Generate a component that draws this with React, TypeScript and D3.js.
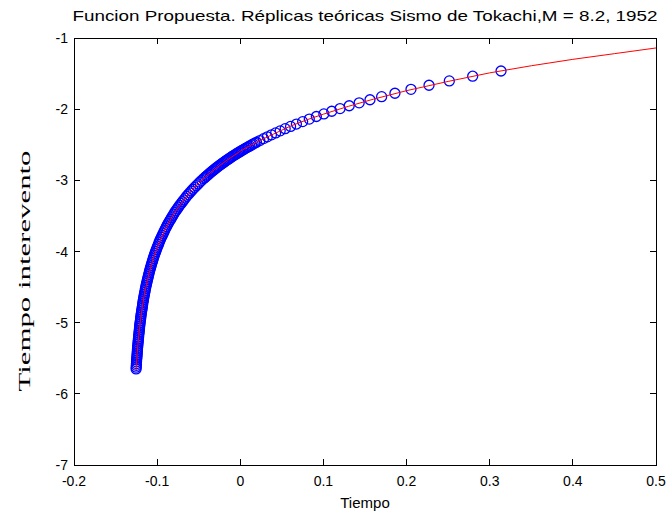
import React from "react";
import * as d3 from "d3";

const W = 669;
const H = 515;
const M = { left: 74, right: 656, top: 38, bottom: 465 };

const titleText = "Funcion Propuesta. Réplicas teóricas Sismo de Tokachi,M = 8.2, 1952";
const xLabel = "Tiempo";
const yLabel = "Tiempo interevento";

const xTicks = [-0.2, -0.1, 0, 0.1, 0.2, 0.3, 0.4, 0.5];
const xTickLabels = ["-0.2", "-0.1", "0", "0.1", "0.2", "0.3", "0.4", "0.5"];
const yTicks = [-1, -2, -3, -4, -5, -6, -7];
const yTickLabels = ["-1", "-2", "-3", "-4", "-5", "-6", "-7"];

// observed circles (replicas), steep part
const obsXSteep = [
  -0.1253, -0.1252, -0.125, -0.1249, -0.1248, -0.1247, -0.1245, -0.1243, -0.1241, -0.124,
  -0.1238, -0.1237, -0.1235, -0.1233, -0.1231, -0.1229, -0.1227, -0.1225, -0.1223, -0.1221,
  -0.1219, -0.1216, -0.1214, -0.1212, -0.121, -0.1208, -0.1205, -0.1202, -0.1199, -0.1197,
  -0.1194, -0.1191, -0.1188, -0.1185, -0.1181, -0.1178, -0.1175, -0.1172, -0.1168, -0.1165,
  -0.1161, -0.1157, -0.1153, -0.1149, -0.1145, -0.1141, -0.1136, -0.1132, -0.1127, -0.1122,
  -0.1117, -0.1112, -0.1107, -0.1102, -0.1096, -0.1091, -0.1085, -0.1079, -0.1073, -0.1067,
  -0.106, -0.1054, -0.1047, -0.104, -0.1033, -0.1026, -0.1018, -0.101, -0.1002, -0.0994,
  -0.0985, -0.0977, -0.0968, -0.0959, -0.0949, -0.0939, -0.0929, -0.0919, -0.0909, -0.0898,
  -0.0887, -0.0876, -0.0864, -0.0852, -0.0839, -0.0827, -0.0814, -0.0801, -0.0787, -0.0773,
  -0.0758, -0.0743, -0.0728, -0.0712, -0.0696, -0.0679, -0.0662, -0.0645, -0.0627, -0.0608,
  -0.0589, -0.057, -0.055, -0.0529, -0.0507, -0.0485, -0.0463,
];
const obsYSteep = [
  -5.65, -5.625, -5.6, -5.575, -5.55, -5.525, -5.5, -5.475, -5.45, -5.425,
  -5.4, -5.375, -5.35, -5.325, -5.3, -5.275, -5.25, -5.225, -5.2, -5.175,
  -5.15, -5.125, -5.1, -5.075, -5.05, -5.025, -5.0, -4.975, -4.95, -4.925,
  -4.9, -4.875, -4.85, -4.825, -4.8, -4.775, -4.75, -4.725, -4.7, -4.675,
  -4.65, -4.625, -4.6, -4.575, -4.55, -4.525, -4.5, -4.475, -4.45, -4.425,
  -4.4, -4.375, -4.35, -4.325, -4.3, -4.275, -4.25, -4.225, -4.2, -4.175,
  -4.15, -4.125, -4.1, -4.075, -4.05, -4.025, -4.0, -3.975, -3.95, -3.925,
  -3.9, -3.875, -3.85, -3.825, -3.8, -3.775, -3.75, -3.725, -3.7, -3.675,
  -3.65, -3.625, -3.6, -3.575, -3.55, -3.525, -3.5, -3.475, -3.45, -3.425,
  -3.4, -3.375, -3.35, -3.325, -3.3, -3.275, -3.25, -3.225, -3.2, -3.175,
  -3.15, -3.125, -3.1, -3.075, -3.05, -3.025, -3.0,
];
// observed circles, flatter part
const obsXFlat = [
  -0.044, -0.0425, -0.041, -0.0395, -0.038, -0.0365, -0.035, -0.0335, -0.032, -0.0305,
  -0.029, -0.0275, -0.026, -0.0245, -0.023, -0.0215, -0.02, -0.0185, -0.017, -0.0155,
  -0.014, -0.0125, -0.011, -0.0095, -0.008, -0.0065, -0.005, -0.0035, -0.002, -0.0005,
  0.001, 0.00275, 0.0045, 0.00625, 0.008, 0.00975, 0.0115, 0.0135, 0.0155, 0.0175,
  0.0195, 0.0235, 0.028, 0.0325, 0.0375, 0.0425, 0.048, 0.054, 0.0605, 0.0675,
  0.075, 0.083, 0.0915, 0.1005, 0.11, 0.12, 0.131, 0.143, 0.156, 0.17,
  0.186, 0.2053, 0.227, 0.2514, 0.2795, 0.3136,
];
const obsYFlat = [
  -2.975, -2.959, -2.943, -2.928, -2.913, -2.898, -2.883, -2.868, -2.854, -2.84,
  -2.826, -2.813, -2.8, -2.786, -2.773, -2.76, -2.748, -2.735, -2.723, -2.711,
  -2.699, -2.687, -2.675, -2.663, -2.652, -2.641, -2.63, -2.619, -2.608, -2.597,
  -2.587, -2.575, -2.563, -2.551, -2.539, -2.527, -2.516, -2.503, -2.49, -2.477,
  -2.465, -2.441, -2.414, -2.389, -2.361, -2.334, -2.305, -2.274, -2.242, -2.209,
  -2.175, -2.139, -2.103, -2.067, -2.029, -1.992, -1.952, -1.911, -1.868, -1.824,
  -1.776, -1.721, -1.664, -1.603, -1.537, -1.464,
];

// proposed function (red line)
const fitX = [
  -0.1254, -0.125, -0.124, -0.123, -0.122, -0.12, -0.118, -0.115, -0.11, -0.105,
  -0.1, -0.09, -0.08, -0.07, -0.06, -0.05, -0.04, -0.03, -0.02, -0.01,
  0, 0.02, 0.04, 0.06, 0.08, 0.1, 0.13, 0.16, 0.2, 0.25,
  0.3, 0.35, 0.4, 0.45, 0.5,
];
const fitY = [
  -5.67, -5.6, -5.43, -5.29, -5.16, -4.96, -4.79, -4.58, -4.32, -4.11,
  -3.95, -3.68, -3.47, -3.31, -3.16, -3.04, -2.93, -2.84, -2.75, -2.67,
  -2.59, -2.46, -2.35, -2.24, -2.15, -2.07, -1.96, -1.86, -1.74, -1.61,
  -1.49, -1.39, -1.3, -1.22, -1.14,
];

const SANS = "'Liberation Sans', Arial, Helvetica, sans-serif";
const SERIF = "'Liberation Serif', 'Times New Roman', serif";

export default function App() {
  const x = d3.scaleLinear().domain([-0.2, 0.5]).range([M.left, M.right]);
  const y = d3.scaleLinear().domain([-7, -1]).range([M.bottom, M.top]);
  const line = d3
    .line<number>()
    .x((_, i) => x(fitX[i]))
    .y((d) => y(d));
  const obs = [
    ...obsXSteep.map((d, i) => [d, obsYSteep[i]]),
    ...obsXFlat.map((d, i) => [d, obsYFlat[i]]),
  ];
  const tl = 6;
  return (
    <svg
      width={W}
      height={H}
      style={{ position: "absolute", left: 0, top: 0, background: "#fff" }}
    >
      <rect x={0} y={0} width={W} height={H} fill="#fff" />
      <defs>
        <clipPath id="plot">
          <rect x={M.left} y={M.top} width={M.right - M.left} height={M.bottom - M.top} />
        </clipPath>
      </defs>
      <g clipPath="url(#plot)">
        {obs.map((d, i) => (
          <circle
            key={i}
            cx={x(d[0])}
            cy={y(d[1])}
            r={5}
            fill="none"
            stroke="#0000ff"
            strokeWidth={1.3}
          />
        ))}
        <path d={line(fitY) || ""} fill="none" stroke="#ff0000" strokeWidth={1} />
      </g>
      <rect
        x={M.left}
        y={M.top}
        width={M.right - M.left}
        height={M.bottom - M.top}
        fill="none"
        stroke="#000"
        strokeWidth={1}
        shapeRendering="crispEdges"
      />
      {xTicks.map((t, i) => (
        <g key={"xt" + i} shapeRendering="crispEdges">
          <line x1={x(t)} x2={x(t)} y1={M.bottom} y2={M.bottom - tl} stroke="#000" />
          <line x1={x(t)} x2={x(t)} y1={M.top} y2={M.top + tl} stroke="#000" />
          <text
            x={x(t)}
            y={486}
            textAnchor="middle"
            fontFamily={SANS}
            fontSize={14}
            fill="#000"
          >
            {xTickLabels[i]}
          </text>
        </g>
      ))}
      {yTicks.map((t, i) => (
        <g key={"yt" + i} shapeRendering="crispEdges">
          <line x1={M.left} x2={M.left + tl} y1={y(t)} y2={y(t)} stroke="#000" />
          <line x1={M.right} x2={M.right - tl} y1={y(t)} y2={y(t)} stroke="#000" />
          <text
            x={68}
            y={y(t) + 5}
            textAnchor="end"
            fontFamily={SANS}
            fontSize={14}
            fill="#000"
          >
            {yTickLabels[i]}
          </text>
        </g>
      ))}
      <text
        x={(M.left + M.right) / 2}
        y={21}
        textAnchor="middle"
        fontFamily={SANS}
        fontSize={15}
        textLength={585}
        lengthAdjust="spacingAndGlyphs"
        fill="#000"
      >
        {titleText}
      </text>
      <text
        x={(M.left + M.right) / 2}
        y={508}
        textAnchor="middle"
        fontFamily={SANS}
        fontSize={15}
        fill="#000"
      >
        {xLabel}
      </text>
      <text
        transform={`translate(30, 271) rotate(-90)`}
        textAnchor="middle"
        fontFamily={SERIF}
        fontSize={17}
        textLength={241}
        lengthAdjust="spacingAndGlyphs"
        fill="#000"
      >
        {yLabel}
      </text>
    </svg>
  );
}
